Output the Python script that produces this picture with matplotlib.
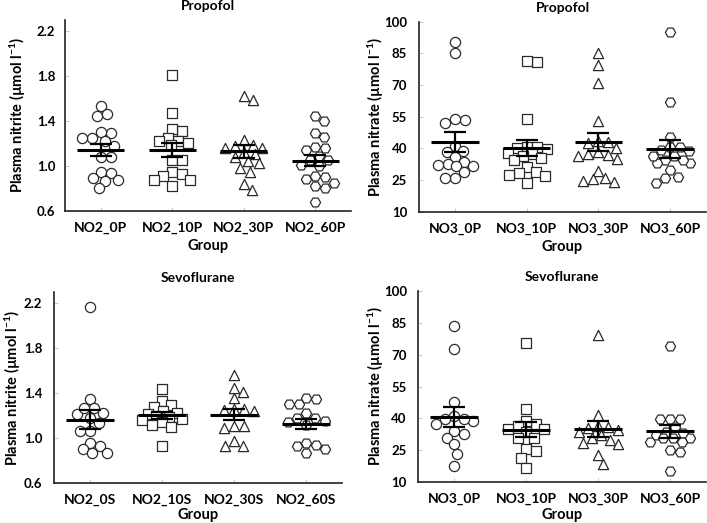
import numpy as np
import matplotlib
matplotlib.use("Agg")
import matplotlib.pyplot as plt

plt.rcParams['font.family'] = ['Lato', 'DejaVu Sans']
plt.rcParams['font.weight'] = 'bold'
plt.rcParams['mathtext.fontset'] = 'custom'
plt.rcParams['mathtext.rm'] = 'Lato:bold'
plt.rcParams['mathtext.default'] = 'rm'

# ---- data ----
# nitrite, propofol
no2_prop_labels = ['NO2_0P', 'NO2_10P', 'NO2_30P', 'NO2_60P']
no2_0p = [1.53, 1.44, 1.46, 1.29, 1.30, 1.25, 1.22, 1.25, 1.18, 1.08, 1.08, 0.95, 0.94, 0.875, 0.87, 0.89, 0.80]
no2_10p = [1.81, 1.47, 1.31, 1.33, 1.22, 1.25, 1.22, 1.20, 1.19, 1.05, 1.05, 0.95, 0.93, 0.91, 0.875, 0.875, 0.82]
no2_30p = [1.59, 1.62, 1.19, 1.23, 1.18, 1.16, 1.16, 1.11, 1.12, 1.04, 1.03, 0.98, 0.95, 0.79, 0.84, 1.08]
no2_60p = [1.44, 1.40, 1.255, 1.29, 1.16, 1.14, 1.17, 1.09, 1.05, 1.05, 1.00, 1.01, 0.90, 0.85, 0.82, 0.88, 0.91, 0.80, 0.68]

# nitrate, propofol
no3_prop_labels = ['NO3_0P', 'NO3_10P', 'NO3_30P', 'NO3_60P']
no3_0p = [85.0, 90.5, 53.4, 52.2, 53.7, 41.3, 38.9, 38.4, 35.7, 33.7, 32.4, 31.8, 31.8, 32.1, 28.9, 25.8, 25.8]
no3_10p = [81.0, 81.4, 53.9, 40.5, 40.0, 39.8, 40.5, 38.0, 37.5, 36.5, 35.5, 34.5, 31.0, 29.0, 28.2, 27.4, 27.0, 23.7]
no3_30p = [85.0, 79.5, 71.1, 53.1, 42.4, 43.5, 43.0, 40.0, 38.5, 37.0, 37.5, 36.5, 34.8, 29.4, 26.1, 25.5, 24.7, 24.2]
no3_60p = [95.3, 62.1, 45.5, 40.8, 40.8, 39.2, 38.9, 36.4, 34.5, 32.9, 32.9, 34.5, 36.4, 29.7, 26.6, 25.8, 23.4]

# nitrite, sevoflurane
no2_sevo_labels = ['NO2_0S', 'NO2_10S', 'NO2_30S', 'NO2_60S']
no2_0s = [2.17, 1.35, 1.27, 1.22, 1.21, 1.27, 1.18, 1.13, 1.06, 1.06, 0.96, 0.93, 0.90, 0.87, 0.87]
no2_10s = [1.44, 1.33, 1.29, 1.28, 1.24, 1.22, 1.21, 1.20, 1.19, 1.17, 1.16, 1.14, 1.12, 1.10, 0.93]
no2_30s = [1.56, 1.45, 1.41, 1.36, 1.26, 1.25, 1.26, 1.24, 1.11, 1.09, 1.11, 0.97, 0.93, 0.93]
no2_60s = [1.35, 1.30, 1.30, 1.36, 1.18, 1.15, 1.14, 1.18, 1.22, 1.12, 0.96, 0.93, 0.90, 0.94, 0.87]

# nitrate, sevoflurane (labels as printed in the source)
no3_sevo_labels = ['NO3_0P', 'NO3_10P', 'NO3_30P', 'NO3_60P']
no3_0s = [83.5, 72.9, 47.8, 41.2, 38.6, 39.9, 39.6, 37.5, 33.9, 32.5, 30.9, 27.8, 23.4, 17.4]
no3_10s = [75.3, 44.6, 37.5, 38.8, 35.2, 36.5, 34.8, 33.5, 30.8, 30.8, 25.4, 24.5, 21.3, 16.8]
no3_30s = [79.5, 41.5, 36.4, 35.6, 36.0, 34.5, 32.0, 33.6, 29.7, 30.5, 28.1, 28.5, 22.9, 18.7]
no3_60s = [74.2, 39.6, 39.6, 39.9, 35.7, 33.1, 33.6, 32.0, 30.5, 30.5, 28.9, 30.5, 28.9, 25.0, 24.2, 15.0]

markers = ['o', 's', '^', 'H']

nitrite_ticks = [0.6, 1.0, 1.4, 1.8, 2.2]
nitrate_ticks = [10, 25, 40, 55, 70, 85, 100]

W, H = 707, 523


def swarm_offsets(ax, xc, vals, d, maxoff=20):
    # beeswarm in pixel space, capped width (points may overlap like the original)
    pts = ax.transData.transform(np.column_stack([np.full(len(vals), xc), vals]))
    ppu = ax.transData.transform((1, 0))[0] - ax.transData.transform((0, 0))[0]
    placed = []
    offs = np.zeros(len(vals))
    order = np.argsort(-np.asarray(vals))
    cands = [0.0]
    for s in np.arange(0.5, maxoff + 0.01, 0.5):
        cands += [s, -s]
    for i in order:
        y = pts[i, 1]
        best, best_gap = 0.0, -1
        for c in cands:
            gap = min([np.hypot(c - px, y - py) for px, py in placed] or [1e9])
            if gap >= d:
                best = c
                break
            if gap > best_gap:
                best, best_gap = c, gap
        placed.append((best, y))
        offs[i] = best / ppu
    return offs


def panel(box, title, groups, labels, ylabel, ylim, yticks, yfmt, ypad, ylab_x, grp_off):
    # box = left, right, top, bottom in pixels
    l, r, t, b = box
    ax = fig.add_axes([l / W, 1 - b / H, (r - l) / W, (b - t) / H])
    ax.set_xlim(-0.5, 3.5)
    ax.set_ylim(*ylim)
    for i, vals in enumerate(groups):
        vals = np.asarray(vals)
        off = swarm_offsets(ax, i, vals, 9.8)
        ax.scatter(i + off, vals, s=54, marker=markers[i], facecolor='white',
                   edgecolor='#2a2a2a', linewidth=0.9, zorder=2)
        m = vals.mean()
        sem = vals.std(ddof=1) / np.sqrt(len(vals))
        ax.hlines(m, i - 0.33, i + 0.33, color='black', lw=2.2, zorder=4)
        ax.errorbar(i, m, yerr=sem, color='black', lw=1.6, capsize=8.2,
                    capthick=1.6, zorder=4)
    ax.set_title(title, fontsize=10, fontweight='bold', pad=7)
    ax.set_xticks(range(4))
    ax.set_xticklabels(labels, fontsize=10)
    ax.set_yticks(yticks)
    ax.set_yticklabels([yfmt.format(t) for t in yticks], fontsize=9.5)
    ax.spines['top'].set_visible(False)
    ax.spines['right'].set_visible(False)
    for sp in ['left', 'bottom']:
        ax.spines[sp].set_linewidth(1.2)
        ax.spines[sp].set_color('#222222')
    ax.tick_params(axis='both', direction='in', length=3, width=0.6,
                   color='#bbbbbb')
    ax.tick_params(axis='y', pad=ypad)
    ax.tick_params(axis='x', pad=8)
    ax.set_xlabel('Group', fontsize=10.5, fontweight='bold', va='center')
    ax.xaxis.set_label_coords(0.5, -grp_off / (b - t))
    ax.set_ylabel(ylabel, fontsize=10.5, fontweight='bold', va='center')
    ax.yaxis.set_label_coords((ylab_x - l) / (r - l), 0.5)
    return ax


fig = plt.figure(figsize=(W / 100, H / 100), dpi=100)

lab_nitrite = r'Plasma nitrite (µmol l$^{-1}$)'
lab_nitrate = r'Plasma nitrate (µmol l$^{-1}$)'

panel((65, 351, 19.75, 211), 'Propofol',
      [no2_0p, no2_10p, no2_30p, no2_60p], no2_prop_labels,
      lab_nitrite, (0.6, 2.3), nitrite_ticks, '{:.1f}', 7, 18, 35)
panel((419, 706, 21.7, 211.7), 'Propofol',
      [no3_0p, no3_10p, no3_30p, no3_60p], no3_prop_labels,
      lab_nitrate, (10, 100), nitrate_ticks, '{:d}', 8.5, 376, 35)
panel((54, 342, 292, 483), 'Sevoflurane',
      [no2_0s, no2_10s, no2_30s, no2_60s], no2_sevo_labels,
      lab_nitrite, (0.6, 2.3), nitrite_ticks, '{:.1f}', 8.5, 13, 31.5)
panel((418, 706, 291, 482), 'Sevoflurane',
      [no3_0s, no3_10s, no3_30s, no3_60s], no3_sevo_labels,
      lab_nitrate, (10, 100), nitrate_ticks, '{:d}', 8, 376, 32.5)

fig.savefig('out.png', dpi=100)
